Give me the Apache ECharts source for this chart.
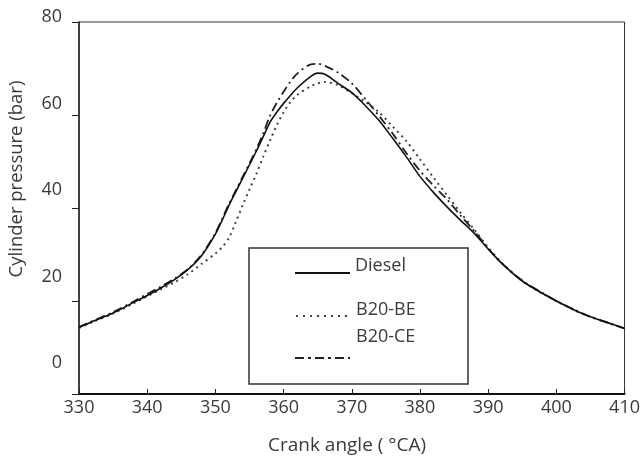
<!DOCTYPE html>
<html><head><meta charset="utf-8">
<script src="https://cdn.jsdelivr.net/npm/echarts@6/dist/echarts.min.js"></script>
<style>html,body{margin:0;padding:0;background:#fff}#c{width:643px;height:463px}</style>
</head><body><div id="c"></div>
<script>
const crankAngle = [330,332,335,338,340,342,344,346,348,350,351,352,353,354,355,356,357,358,359,360,361,362,364,365,366,368,370,372,374,376,378,380,382,384,386,388,390,392,395,398,400,403,405,408,410];
const diesel = [14.3,15.6,17.4,19.7,21.2,22.8,24.6,26.8,29.8,34.4,37.4,40.6,43.5,46.4,49.3,52.2,55.3,58.4,60.6,62.5,64.2,65.8,68.3,69.0,68.8,66.8,64.8,62.0,58.8,55.0,51.0,46.8,43.3,40.2,37.3,34.5,31.2,28.1,24.3,21.6,20.0,17.8,16.6,15.1,14.1];
const b20be = [14.2,15.5,17.3,19.5,21.0,22.5,24.0,25.8,28.0,30.2,31.6,33.6,37.0,40.6,44.0,47.3,51.0,54.5,57.8,60.6,62.8,64.3,66.2,66.8,67.1,66.4,64.7,62.8,60.6,57.5,54.4,50.5,46.5,42.7,38.9,35.3,31.5,28.2,24.3,21.6,20.0,17.8,16.6,15.1,14.1];
const b20ce = [14.4,15.7,17.6,19.9,21.5,23.1,24.8,26.9,30.0,34.6,37.7,40.9,43.8,46.7,49.6,52.6,56.0,59.8,62.6,65.0,67.2,68.9,70.9,71.0,70.6,69.1,66.8,63.4,59.8,56.0,51.8,48.0,44.8,41.8,38.3,35.0,31.3,28.1,24.4,21.7,20.0,17.9,16.6,15.1,14.1];
const seriesNames = ['Diesel','B20-BE','B20-CE'];
const yTickLabels = [0,20,40,60,80];
const xTickLabels = [330,340,350,360,370,380,390,400,410];
const xTitle = 'Crank angle ( °CA)';
const yTitle = 'Cylinder pressure (bar)';

const FONT = 'Open Sans';
const TXT = '#3a3a3a';
const pairs = arr => crankAngle.map((a,i)=>[a,arr[i]]);

const chart = echarts.init(document.getElementById('c'), null, {renderer:'canvas'});
chart.setOption({
  animation:false,
  backgroundColor:'#fff',
  grid:[
    {left:79,right:16,top:22,bottom:69,show:true,borderColor:'#333',borderWidth:1},
    {left:79,right:16,top:17,height:346,show:false}
  ],
  xAxis:[
    {gridIndex:0,type:'value',min:xTickLabels[0],max:xTickLabels[xTickLabels.length-1],interval:10,
     axisLine:{show:true,lineStyle:{color:'#111',width:2}},
     axisTick:{show:true,inside:true,length:5,lineStyle:{color:'#222'}},
     axisLabel:{color:TXT,fontFamily:FONT,fontSize:18,margin:5},
     splitLine:{show:false}},
    {gridIndex:1,type:'value',min:0,max:1,show:false}
  ],
  yAxis:[
    {gridIndex:0,type:'value',min:0,max:80,interval:20,
     axisLine:{show:true,lineStyle:{color:'#222',width:1.5}},
     axisTick:{show:true,length:7,lineStyle:{color:'#222'}},
     axisLabel:{show:false},splitLine:{show:false}},
    {gridIndex:1,type:'value',min:yTickLabels[0],max:yTickLabels[yTickLabels.length-1],interval:20,
     axisLine:{show:false},axisTick:{show:false},splitLine:{show:false},
     axisLabel:{color:TXT,fontFamily:FONT,fontSize:18,margin:17}}
  ],
  series:[
    {name:seriesNames[0],type:'line',xAxisIndex:0,yAxisIndex:0,data:pairs(diesel),showSymbol:false,smooth:0.3,
     lineStyle:{color:'#111',width:1.6,type:'solid'},z:3},
    {name:seriesNames[1],type:'line',xAxisIndex:0,yAxisIndex:0,data:pairs(b20be),showSymbol:false,smooth:0.3,
     lineStyle:{color:'#444',width:2,type:[2,4]},z:2},
    {name:seriesNames[2],type:'line',xAxisIndex:0,yAxisIndex:0,data:pairs(b20ce),showSymbol:false,smooth:0.3,
     lineStyle:{color:'#222',width:1.8,type:[9,4,2,4]},z:2}
  ],
  graphic:[
    {type:'text',x:17,y:179,rotation:Math.PI/2,
     style:{text:yTitle,fill:TXT,font:'18.5px "Open Sans"',align:'center',verticalAlign:'middle'},z:11},
    {type:'text',x:347,y:446,
     style:{text:xTitle,fill:TXT,font:'19px "Open Sans"',align:'center',verticalAlign:'middle'},z:11},
    {type:'rect',shape:{x:249,y:248,width:219,height:136},style:{fill:'#fff',stroke:'#333',lineWidth:1.5},z:10},
    {type:'line',shape:{x1:295,y1:273,x2:350,y2:273},style:{stroke:'#111',lineWidth:2},z:11},
    {type:'text',x:355,y:266,style:{text:seriesNames[0],fill:TXT,font:'18px "Open Sans"',verticalAlign:'middle'},z:11},
    {type:'line',shape:{x1:296,y1:316,x2:349,y2:316},style:{stroke:'#444',lineWidth:2,lineDash:[2,5]},z:11},
    {type:'text',x:356,y:310,style:{text:seriesNames[1],fill:TXT,font:'18px "Open Sans"',verticalAlign:'middle'},z:11},
    {type:'text',x:356,y:337,style:{text:seriesNames[2],fill:TXT,font:'18px "Open Sans"',verticalAlign:'middle'},z:11},
    {type:'line',shape:{x1:295,y1:358,x2:350,y2:358},style:{stroke:'#222',lineWidth:2,lineDash:[9,4,3,4]},z:11}
  ]
});
</script></body></html>
